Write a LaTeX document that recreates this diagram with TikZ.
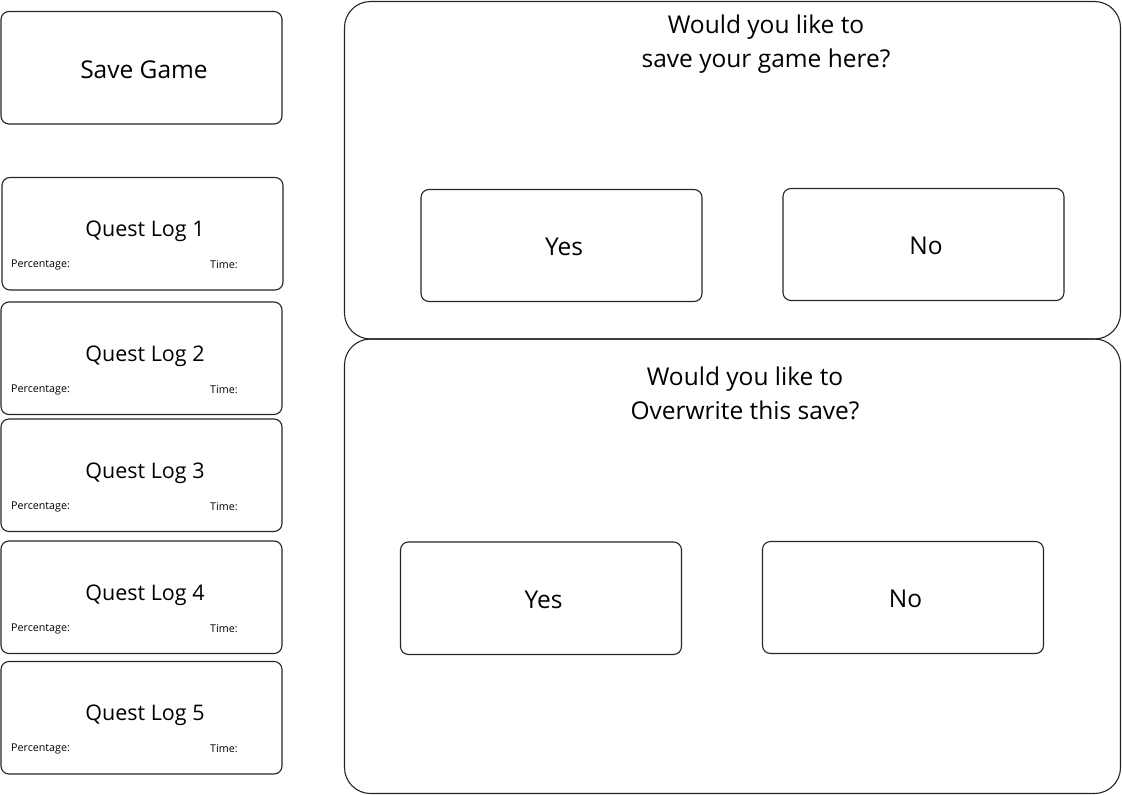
\documentclass[tikz,border=0pt]{standalone}
\usepackage{fontspec}
\setmainfont{Open Sans}
\begin{document}
\begin{tikzpicture}[x=1pt,y=-1pt,
  panel/.style={draw=black!85, line width=1.1pt, rounded corners=26pt},
  box/.style={draw=black!85, line width=1.1pt, rounded corners=8pt},
  big/.style={font=\fontsize{24.5}{30}\selectfont, inner sep=0pt, yshift=-1.5pt, xshift=2.5pt},
  head/.style={font=\fontsize{24.5}{34}\selectfont, inner sep=0pt, align=center},
  small/.style={font=\fontsize{10.7}{12}\selectfont, inner sep=0pt, anchor=base west}]
\useasboundingbox[fill=white] (0,0) rectangle (1122,795);
% panels
\draw[panel] (344.5,1.5) rectangle (1120.5,339);
\draw[panel] (344.5,339) rectangle (1120.5,793.5);
\node[head] (h1) at (766,44) {Would you like to\\save your game here?};
\node[head] (h2) at (745,393) {Would you like to\\Overwrite this save?};
% buttons
\draw[box] (421,189.5) rectangle (702,301.5) node[midway,big] (y1) {Yes};
\draw[box] (783,188.5) rectangle (1064,300.5) node[midway,big] (n1) {No};
\draw[box] (400.5,542) rectangle (681.5,654.5) node[midway,big] (y2) {Yes};
\draw[box] (762.5,541.5) rectangle (1043.5,653.5) node[midway,big] (n2) {No};
% left
\draw[box] (1,11.5) rectangle (282,124) node[midway,big] (sg) {Save Game};
\foreach \i/\t/\b/\l in {1/177.5/290/2, 2/302/414.5/1, 3/419/531.5/1, 4/541/653.5/1, 5/661.5/774/1}{
  \draw[box] (\l,\t) rectangle (\l+281,\b);
  \node[font=\fontsize{21.5}{26}\selectfont, inner sep=0pt] (q\i) at (145,\t+54) {Quest Log \i};
  \node[small] (p\i) at (11,\t+90) {Percentage:};
  \node[small] (t\i) at (210,\t+91) {Time:};
}
\end{tikzpicture}
\end{document}
